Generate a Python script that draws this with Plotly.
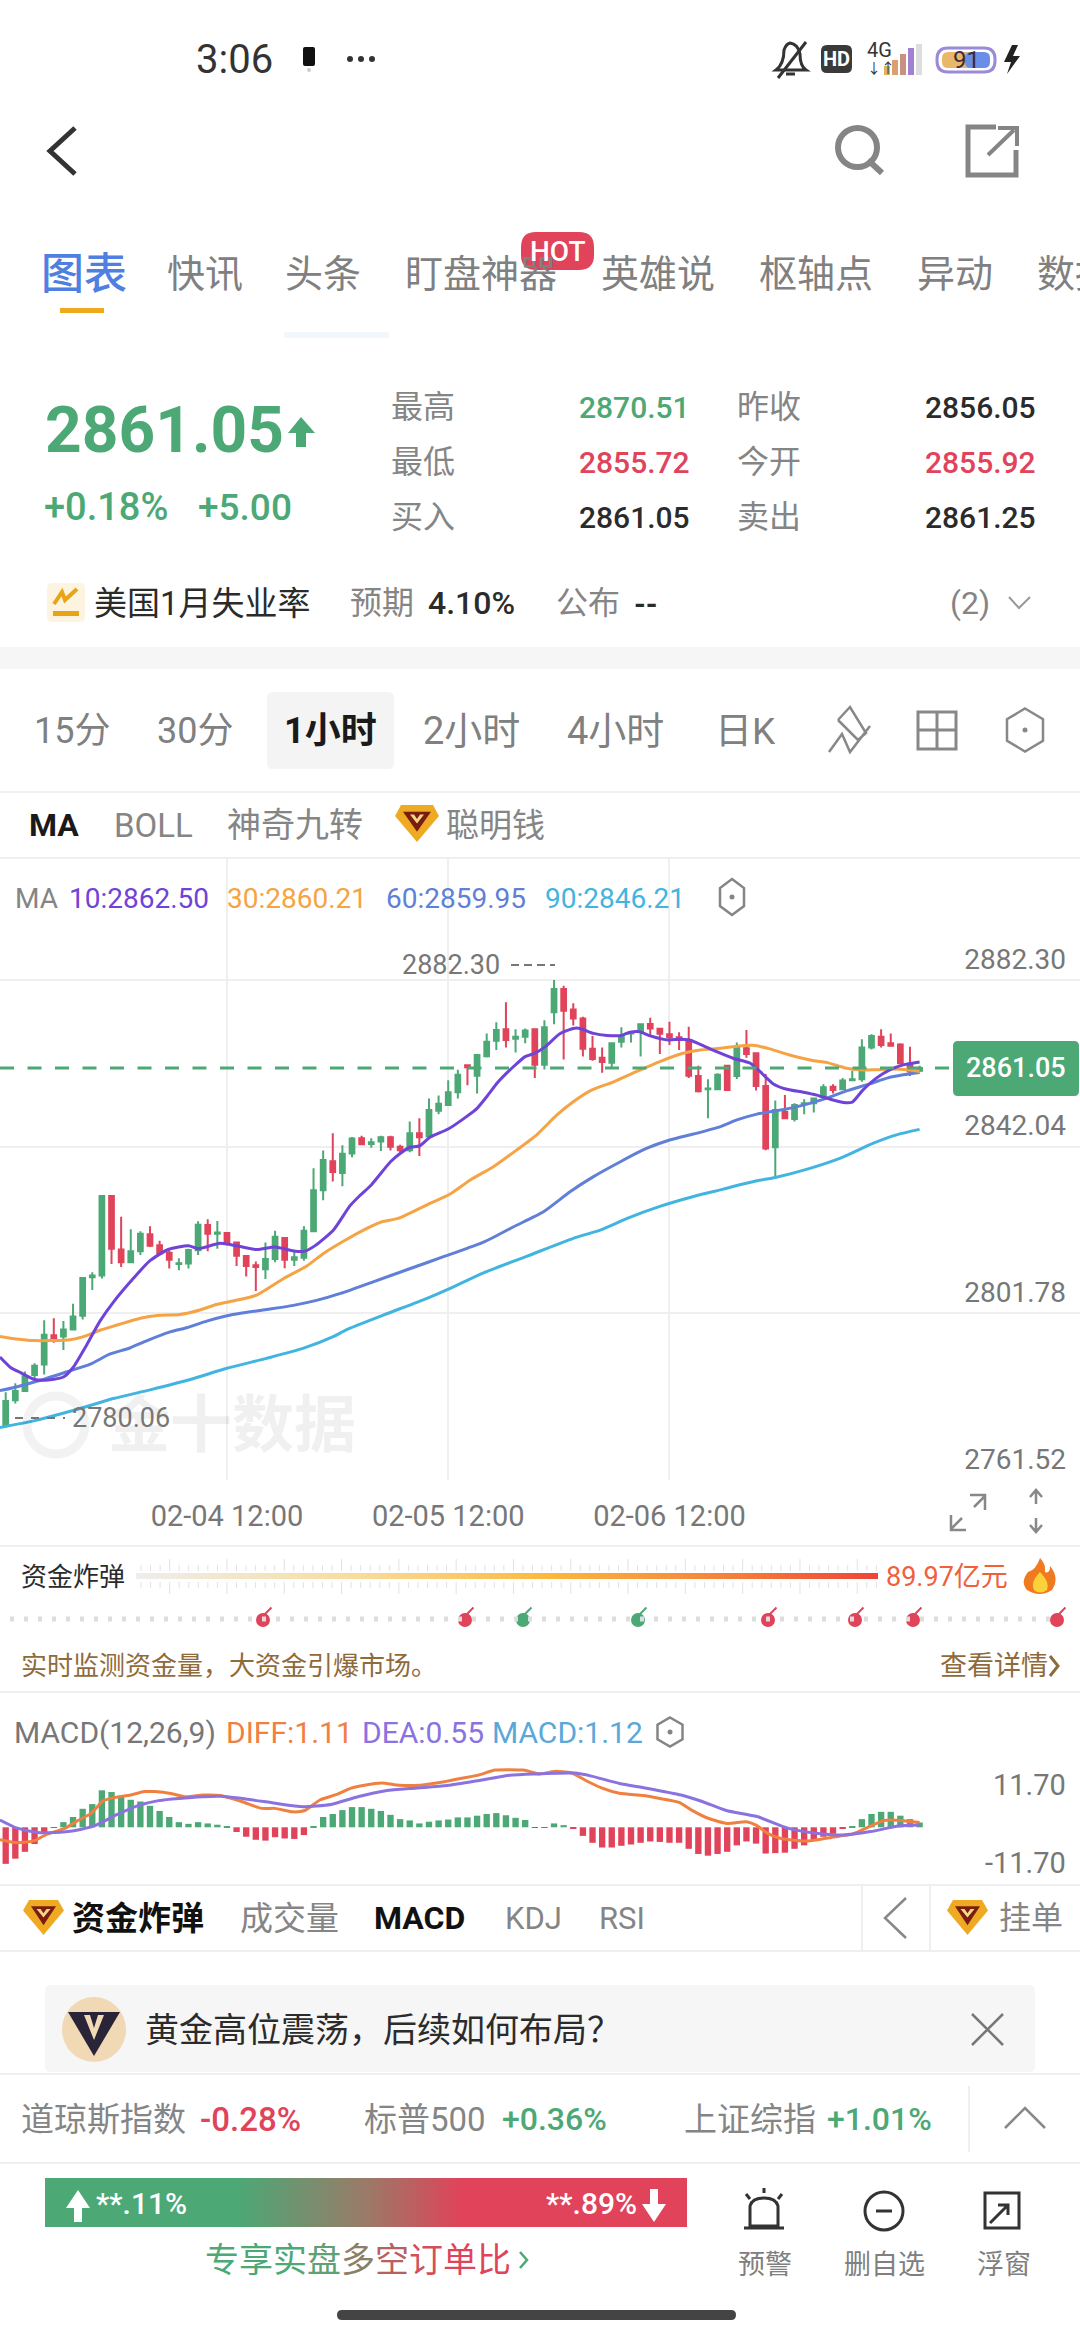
import plotly.graph_objects as go

# candles, one per hour
candle_open = [2774.6,2780.8,2783.0,2786.9,2789.4,2796.5,2796.2,2797.9,2801.2,2810.5,2810.9,2830.1,2817.2,2814.1,2816.8,2820.9,2818.2,2816.4,2813.7,2813.8,2817.0,2823.1,2821.0,2821.2,2818.9,2815.6,2813.4,2812.4,2814.9,2820.0,2814.7,2815.2,
               2821.6,2831.5,2838.5,2835.7,2840.4,2844.1,2842.7,2843.3,2844.3,2842.0,2841.2,2845.3,2844.5,2850.7,2852.1,2855.2,2861.7,2859.2,2863.9,2867.6,2870.4,2868.1,2868.6,2870.4,2861.8,2874.5,2880.1,2875.2,2873.0,2865.7,
               2863.5,2862.3,2867.4,2869.4,2869.8,2871.7,2870.5,2869.2,2868.5,2867.8,2859.1,2855.9,2855.9,2861.6,2859.1,2865.8,2864.6,2856.7,2841.9,2850.5,2848.7,2852.3,2852.5,2854.1,2856.5,2855.9,2858.1,2858.3,2866.0,2868.6,2867.0,2866.7,2861.8,2860.4]
candle_high = [2782.7,2784.9,2787.7,2789.7,2800.1,2800.6,2799.9,2804.1,2810.5,2811.7,2830.3,2830.3,2825.1,2822.1,2821.6,2822.8,2819.3,2817.0,2815.1,2817.4,2824.0,2824.5,2824.1,2821.3,2819.1,2815.7,2814.3,2818.9,2821.7,2820.1,2816.6,2822.8,
               2836.8,2841.1,2845.3,2842.4,2844.4,2844.7,2844.1,2844.7,2844.7,2842.5,2848.1,2848.9,2853.7,2854.4,2858.1,2860.6,2861.8,2864.2,2869.4,2872.1,2876.9,2870.4,2870.6,2870.5,2872.6,2882.3,2880.9,2876.7,2873.4,2868.8,
               2866.0,2867.2,2870.9,2869.8,2871.7,2873.2,2870.6,2872.2,2869.7,2871.0,2861.6,2858.3,2859.8,2861.8,2867.2,2870.2,2864.8,2859.6,2853.2,2854.5,2852.5,2853.5,2853.9,2857.1,2857.1,2858.6,2860.4,2868.0,2869.2,2870.4,2869.4,2867.0,2866.2,2861.6]
candle_low = [2774.4,2780.0,2782.9,2785.8,2787.0,2794.7,2792.9,2797.7,2800.3,2807.4,2810.2,2813.7,2813.0,2813.9,2815.9,2817.8,2816.0,2812.6,2812.2,2812.6,2815.9,2816.8,2817.4,2818.2,2813.2,2810.7,2807.2,2810.1,2814.1,2812.7,2813.2,2814.5,
              2821.4,2829.1,2833.6,2832.5,2839.5,2842.5,2841.8,2841.0,2841.1,2840.6,2840.7,2839.8,2844.1,2849.9,2851.9,2853.7,2856.9,2854.9,2863.6,2865.4,2866.0,2864.8,2867.0,2858.6,2860.7,2871.6,2863.1,2871.3,2863.8,2862.8,
              2859.9,2861.2,2866.0,2867.2,2863.8,2869.0,2864.4,2866.6,2865.4,2858.6,2855.1,2848.9,2855.7,2855.6,2858.4,2863.5,2855.6,2841.2,2834.4,2848.7,2848.1,2849.9,2850.3,2853.7,2854.9,2855.7,2858.0,2857.7,2865.5,2866.0,2866.2,2861.9,2859.1,2860.0]
candle_close = [2780.6,2783.0,2786.6,2789.1,2796.6,2795.7,2797.9,2801.0,2810.3,2810.9,2830.1,2817.4,2814.1,2816.8,2821.0,2818.1,2816.3,2814.7,2813.9,2817.1,2823.2,2821.0,2821.3,2818.8,2815.7,2813.2,2813.0,2814.9,2820.3,2814.7,2815.3,2821.7,
                2831.5,2838.8,2835.9,2840.3,2844.0,2842.6,2843.1,2844.3,2842.0,2841.2,2845.3,2844.3,2850.9,2852.4,2855.2,2859.4,2861.2,2864.2,2867.4,2870.2,2867.8,2868.6,2870.1,2861.8,2870.9,2880.1,2874.9,2873.0,2865.7,2863.2,
                2862.5,2867.0,2868.8,2869.6,2871.6,2870.6,2869.3,2868.5,2867.8,2859.2,2855.4,2856.1,2859.4,2855.7,2866.0,2864.4,2856.7,2841.6,2850.9,2848.9,2852.1,2852.5,2853.7,2856.4,2855.7,2858.0,2858.3,2866.0,2868.8,2866.6,2866.4,2862.2,2860.2,2861.05]

# moving averages, read at points along each line
ma10_idx = [-0.6,0.5,1.5,3,4,6,7,8.4,9.8,11.2,13.3,15,16.9,19,20,22.3,24,26.1,28,30.1,31.1,32.2,34.1,35.8,36.8,38,40,41,42,43,44.1,46,47.9,49,50,51.2,52.8,54,55,56.1,57.6,59,59.7,61.1,62.5,64,64.9,65.9,67,68.9,70.1,71.1,72.9,73.9,75.6,77.4,78.4,79.8,81.2,82.9,84.3,86,87.1,88,89.1,90.5,91.9,93.3,95]
ma10 = [2791.2,2788.7,2787.5,2785.8,2785.6,2786.4,2788.7,2794.1,2799.9,2804.5,2810.3,2814.5,2817.2,2818.1,2817.4,2818.7,2818.1,2817.2,2817.8,2816.8,2816.8,2818.2,2822.0,2827.8,2830.2,2832.8,2838.4,2840.4,2841.9,2842.2,2844.3,2846.3,2849.3,2851.3,2854.1,2857.7,2861.4,2863.8,2864.6,2866.2,2869.3,2870.6,2870.6,2869.4,2868.9,2868.9,2869.7,2869.8,2868.8,2867.8,2868.0,2867.8,2866.0,2865.0,2863.4,2862.2,2860.2,2857.2,2855.9,2855.2,2854.5,2853.3,2852.7,2852.8,2855.7,2858.6,2860.6,2861.8,2862.5]
ma30_idx = [-0.6,1.1,2.9,4.6,6.7,8.4,9.8,11.5,14,16,18.1,20.2,21.9,23.7,26.1,28.9,31.3,33,35.1,37.2,39.1,40.8,43.8,46.2,48.3,50.7,53.1,55.2,57.3,59,60.9,63.2,65.6,68,70.4,72.2,74.3,75.6,77.9,79.5,81.5,84,85.3,87.4,88.8,90.2,92.3,93.7,95]
ma30 = [2796.2,2795.6,2795.2,2795.2,2795.4,2796.4,2797.7,2798.9,2800.6,2801.3,2801.5,2802.6,2803.9,2804.8,2806.2,2810.2,2813.2,2816.2,2819.2,2821.9,2823.9,2824.7,2828.0,2830.6,2834.0,2837.2,2841.2,2844.9,2849.7,2852.9,2855.7,2857.7,2860.2,2862.6,2864.6,2865.4,2865.8,2866.2,2866.5,2865.6,2864.2,2862.8,2862.4,2861.0,2860.6,2860.6,2860.8,2860.6,2860.21]
ma60_idx = [-0.6,1.1,3.6,6.3,8.8,10.8,12.9,14.7,17.1,18.8,20.9,23,24.4,27.1,29.9,32.3,34.8,38.2,41.7,45.8,49.6,52.8,55.9,58.7,61.1,63.9,66.6,69.1,71.5,74.3,76,78.1,80.1,82.6,85.3,87.4,89.8,91.6,93.3,95]
ma60 = [2783.1,2784.0,2785.6,2787.6,2789.5,2791.9,2793.4,2795.2,2797.3,2798.3,2799.9,2801.2,2801.8,2802.7,2803.7,2804.9,2806.6,2809.4,2812.3,2815.7,2818.9,2822.7,2826.3,2831.2,2834.8,2838.4,2841.6,2843.7,2845.1,2846.9,2848.5,2849.9,2850.7,2851.9,2853.7,2855.5,2857.2,2858.6,2859.4,2859.95]
ma90_idx = [-0.6,2.9,7,11.2,15,19.2,23,27.1,30.9,34.1,35.4,39.3,43.8,46.2,49.6,54.2,59,61.8,64.6,68,71.5,74.3,75.6,78.1,80,83.6,86.7,90.2,92.6,95]
ma90 = [2774.2,2775.8,2778.3,2781.2,2783.3,2785.8,2788.5,2790.9,2793.3,2796.2,2797.8,2801.4,2805.4,2807.8,2811.5,2815.6,2819.9,2821.9,2824.7,2827.6,2830.0,2831.6,2832.4,2833.8,2834.6,2836.8,2839.2,2842.9,2844.9,2846.21]

price_ticks = [2882.30, 2842.04, 2801.78, 2761.52]
last_price = 2861.05
time_idx = [23, 46, 69]
time_labels = ["02-04 12:00", "02-05 12:00", "02-06 12:00"]

# macd panel
macd_bars = [-8.5,-7.3,-5.7,-3.9,-1.3,-0.1,1.2,2.4,4.3,5.4,8.6,8.2,7.3,6.4,6.0,5.0,3.8,2.4,1.2,0.8,1.2,0.9,0.6,0.1,-1.1,-2.2,-2.9,-3.1,-2.3,-2.6,-2.7,-1.8,
             0.3,2.4,3.1,4.0,4.7,4.7,4.3,3.8,2.9,1.9,1.6,0.9,1.3,1.6,1.8,2.3,2.3,2.7,3.1,3.3,2.8,2.2,1.7,-0.15,-0.1,0.9,0.5,-0.2,-2.0,-3.6,
             -4.7,-4.7,-4.3,-4.0,-3.6,-3.3,-3.4,-3.6,-3.6,-5.0,-6.2,-6.6,-6.2,-5.7,-4.2,-3.3,-3.8,-6.1,-6.0,-5.9,-5.0,-4.2,-2.9,-2.2,-1.5,-0.3,0.3,1.9,3.1,3.6,3.6,2.7,1.9,1.12]
diff_idx = [-0.6,1.2,3,4.1,6.2,7.3,8.9,10.1,11.2,13,14.4,15.5,17.3,18.7,20.5,22.3,24.5,26.6,28,29.8,31.1,32.7,34.5,35.9,37.3,39.1,40.9,43.1,45.6,47.4,49.2,50.9,53.8,55.5,57,58.8,60.2,62,63.8,66.3,68,70,71.3,73,75,77,78,79.2,80.6,83.4,85.9,88,89.9,91.3,93.1,95]
diff_line = [-2.9,-3.6,-3.1,-1.8,-0.2,1.3,3.3,6.1,6.9,7.5,8.3,8.3,7.8,7.1,7.5,7.4,6.0,4.4,4.4,3.6,3.9,6.4,7.7,9.1,9.8,10.3,9.8,9.8,10.6,11.4,12.2,13.3,13.3,12.4,13.0,12.7,11.0,9.1,7.9,7.4,6.7,5.8,4.0,2.1,0.9,1.3,0.5,-1.4,-2.6,-3.2,-2.3,-1.6,0.3,1.6,1.6,1.11]
dea_idx = [-0.6,1.2,3.3,5.1,7.1,9.4,11.6,13.7,15.9,18,22.3,25.2,28,30.9,33.8,36.6,39.5,42.4,45.9,49.5,52.4,54.9,59.1,60.9,63.8,66.6,70.2,72.4,74.9,78.1,81.3,84.2,87,89.9,92.8,95]
dea_line = [1.7,-0.2,-1.2,-1.2,-0.8,0.5,3.0,5.0,6.2,6.7,7.2,6.5,5.6,4.8,5.3,7.1,8.5,9.1,9.7,11.0,12.1,12.4,12.6,11.9,10.2,9.1,7.5,6.0,3.9,2.5,-0.2,-1.4,-1.8,-1.0,0.3,0.55]

# 资金炸弹 markers, left to right
bomb_x = [263, 465, 523, 638, 768, 855, 913, 1057]
bomb_up = [False, False, True, True, False, False, False, False]

GREEN = "#4ca875"
RED = "#e0435a"
GRAY = "#858585"
DARK = "#2b2b2b"
LINE = "#efefef"
FONT = "Roboto, Noto Sans CJK SC"
W, H = 1080, 2340

annos = []
shapes = []


def text(x, y, s, size, color=GRAY, anchor="left", weight=400):
    annos.append(dict(x=x, y=y, xref="x3", yref="y3", text=s, showarrow=False, xanchor=anchor, yanchor="middle",
                      font=dict(size=size, color=color, family=FONT, weight=weight), borderpad=0, borderwidth=0))


def rect(x0, y0, x1, y1, fill, layer="above"):
    shapes.append(dict(type="rect", xref="x3", yref="y3", x0=x0, y0=y0, x1=x1, y1=y1, fillcolor=fill, line_width=0, layer=layer))


def hline(y, color=LINE, x0=0, x1=W, width=2):
    shapes.append(dict(type="line", xref="x3", yref="y3", x0=x0, x1=x1, y0=y, y1=y, line=dict(color=color, width=width)))


def vline(x, y0, y1, color=LINE, width=2):
    shapes.append(dict(type="line", xref="x3", yref="y3", x0=x, x1=x, y0=y0, y1=y1, line=dict(color=color, width=width)))


def path(d, color=None, fill=None, width=3):
    shapes.append(dict(type="path", xref="x3", yref="y3", path=d, fillcolor=fill or "rgba(0,0,0,0)",
                       line=dict(color=color or "rgba(0,0,0,0)", width=width if color else 0)))


def ellipse(x0, y0, x1, y1, fill=None, color=None, width=3):
    shapes.append(dict(type="circle", xref="x3", yref="y3", x0=x0, y0=y0, x1=x1, y1=y1, fillcolor=fill or "rgba(0,0,0,0)",
                       line=dict(color=color or "rgba(0,0,0,0)", width=width if color else 0)))


def round_rect(x0, y0, x1, y1, r, fill=None, color=None, width=2):
    d = (f"M{x0+r},{y0} L{x1-r},{y0} Q{x1},{y0} {x1},{y0+r} L{x1},{y1-r} Q{x1},{y1} {x1-r},{y1} "
         f"L{x0+r},{y1} Q{x0},{y1} {x0},{y1-r} L{x0},{y0+r} Q{x0},{y0} {x0+r},{y0} Z")
    path(d, color, fill, width)


def hexagon(cx, cy, w, h, color=GRAY):
    d = (f"M{cx},{cy-h/2} L{cx+w/2},{cy-h/4} L{cx+w/2},{cy+h/4} L{cx},{cy+h/2} L{cx-w/2},{cy+h/4} L{cx-w/2},{cy-h/4} Z")
    path(d, color, None, 2.5)
    ellipse(cx - 2.5, cy - 2.5, cx + 2.5, cy + 2.5, fill=color)


def diamond(x0, y0, x1, y1):
    cx = (x0 + x1) / 2
    h = y1 - y0
    path(f"M{x0+6},{y0} L{x1-6},{y0} L{x1},{y0+h*0.3} L{cx},{y1} L{x0},{y0+h*0.3} Z", fill="#eeaa22")
    path(f"M{x0+8},{y0+h*0.18} L{x1-8},{y0+h*0.18} L{cx},{y0+h*0.72} Z", fill="#7a1c10")
    path(f"M{cx-7},{y0+h*0.26} L{cx},{y0+h*0.5} L{cx+7},{y0+h*0.26} L{cx+3},{y0+h*0.26} L{cx},{y0+h*0.38} L{cx-3},{y0+h*0.26} Z", fill="#f5d78a")


# status bar
text(196, 59, "3:06", 40, "#333333")
round_rect(303, 47, 315, 66, 2, fill="#111111")
ellipse(307, 68, 311, 72, fill="#cccccc")
for dot_x in (350, 361, 372):
    ellipse(dot_x - 3, 56, dot_x + 3, 62, fill="#333333")
path("M776,70 Q784,64 784,50 Q786,44 790,43 Q798,44 800,54 Q800,66 806,70 Z M786,74 L795,74", "#333333", None, 3)
path("M778,78 L806,42", "#333333", None, 3)
round_rect(821, 45, 852, 73, 6, fill="#3a3a3a")
text(836.5, 59, "HD", 20, "#ffffff", "center", 700)
text(867, 50, "4G", 20, "#333333")
text(867, 68, "↓↑", 14, "#333333")
for bar_x, bar_top, bar_color in zip((884, 892, 900, 908, 916), (66, 60, 54, 48, 44), ("#e0b060", "#dca070", "#c89080", "#a080d0", "#dddddd")):
    rect(bar_x, bar_top, bar_x + 6, 75, bar_color)
round_rect(937, 48, 995, 72, 11, fill="#ffffff", color="#9a8ad8", width=3)
round_rect(942, 52, 978, 68, 6, fill="#e8b76a")
round_rect(965, 52, 990, 68, 6, fill="#6a8ee8")
text(966, 60, "91", 24, "#3a2a3a", "center")
path("M1012,45 L1004,62 L1011,62 L1007,74 L1020,56 L1013,56 L1018,45 Z", fill="#222222")

# nav row
path("M75,128 L50,151 L75,174", "#333333", None, 5)
ellipse(838, 128, 877, 167, color=GRAY, width=6)
path("M868,160 L882,173", GRAY, None, 6)
path("M996,127 L968,127 L968,175 L1016,175 L1016,150", GRAY, None, 5)
path("M988,155 L1014,130 M998,128 L1017,128 L1017,146", GRAY, None, 4)

# tabs
text(41, 274, "图表", 43, "#4f80e1", weight=500)
for tab_x, tab in zip((167, 285, 405, 601, 759, 917, 1037), ("快讯", "头条", "盯盘神器", "英雄说", "枢轴点", "异动", "数据")):
    text(tab_x, 274, tab, 38, "#808080")
rect(60, 308, 104, 313, "#f0a81c")
rect(284, 332, 389, 338, "#f2f6fd")
round_rect(521, 232, 594, 270, 15, fill=RED)
text(557.5, 251, "HOT", 28, "#ffffff", "center", 500)

# quote block
text(45, 430, "2861.05", 64, GREEN, weight=700)
path("M301,417 L315,433 L306,433 L306,447 L296,447 L296,433 L288,433 Z", fill=GREEN)
text(44, 507, "+0.18%", 38, GREEN, weight=500)
text(198, 507, "+5.00", 37, GREEN, weight=500)
for row_y, left, mid, mid_color, right, val, val_color in [
    (407, "最高", "2870.51", GREEN, "昨收", "2856.05", DARK),
    (462, "最低", "2855.72", RED, "今开", "2855.92", RED),
    (517, "买入", "2861.05", DARK, "卖出", "2861.25", DARK),
]:
    text(391, row_y, left, 32)
    text(690, row_y, mid, 30, mid_color, "right", 500)
    text(737, row_y, right, 32)
    text(1036, row_y, val, 30, val_color, "right", 500)

round_rect(47, 583, 85, 622, 5, fill="#fdf4e0")
path("M54,604 L62,592 L65,600 L77,589", "#e8a317", None, 4)
rect(53, 611, 79, 616, "#e8a317")
text(94, 603, "美国1月失业率", 33, DARK)
text(350, 603, "预期", 32)
text(428, 603, "4.10%", 32, DARK, weight=500)
text(556, 603, "公布", 32)
text(634, 603, "--", 30, DARK, weight=700)
text(950, 603, "(2)", 32)
path("M1009,597 L1019,608 L1030,597", "#999999", None, 2)
rect(0, 647, W, 669, "#f6f6f6", "below")

# period row
round_rect(267, 692, 394, 769, 6, fill="#f4f4f4")
for per_x, per, per_size in zip((34, 157, 423, 567, 715), ("15分", "30分", "2小时", "4小时", "日K"), (36, 36, 38, 38, 37)):
    text(per_x, 731, per, per_size, "#808080")
text(284, 731, "1小时", 36, "#1a1a1a", weight=700)
path("M838,720 L850,707 L866,733 L858,740 L838,720 M829,752 L842,734 L850,752 L870,726", "#888888", None, 2.5)
shapes.append(dict(type="rect", xref="x3", yref="y3", x0=918, y0=712, x1=956, y1=749, line=dict(color="#888888", width=3)))
path("M937,712 L937,749 M918,730 L956,730", "#888888", None, 3)
hexagon(1025, 730, 36, 43, "#888888")
hline(792)
hline(858)

# indicator tabs
text(29, 825, "MA", 32, "#1a1a1a", weight=700)
text(114, 825, "BOLL", 33)
text(227, 825, "神奇九转", 34)
diamond(395, 805, 439, 842)
text(446, 825, "聪明钱", 33)

# ma legend
text(15, 898, "MA", 28)
for leg_x, leg, leg_color in zip((69, 227, 386, 545), ("10:2862.50", "30:2860.21", "60:2859.95", "90:2846.21"), ("#6f42d8", "#f5a344", "#5f7fd8", "#42b4e0")):
    text(leg_x, 898, leg, 28, leg_color)
hexagon(732, 897, 24, 36)

# watermark under the candles
ellipse(27, 1396, 85, 1454, color="rgba(0,0,0,0.05)", width=9)
text(108, 1425, "金十数据", 62, "rgba(0,0,0,0.06)", weight=700)

# high and low marks
text(402, 965, "2882.30", 27, "#777777")
path("M511,965 L555,965", "#777777", None, 2)
shapes[-1]["line"]["dash"] = "8px,5px"
text(72, 1418, "2780.06", 27, "#777777")
path("M15,1418 L65,1418", "#777777", None, 2)
shapes[-1]["line"]["dash"] = "8px,8px"

# last price tag
round_rect(953, 1041, 1079, 1096, 5, fill=GREEN)
text(1016, 1068, "2861.05", 27, "#ffffff", "center", 500)

# expand icons and date row
path("M951,1529 L962,1518 M951,1515 L951,1530 L966,1530 M974,1507 L985,1496 M970,1495 L985,1495 L985,1510", "#888888", None, 2.5)
path("M1036,1490 L1036,1504 M1030,1497 L1036,1490 L1042,1497 M1036,1518 L1036,1532 M1030,1525 L1036,1532 L1042,1525", "#888888", None, 2.5)

# 资金炸弹 strip
hline(1546)
text(21, 1577, "资金炸弹", 26, DARK)
minor_ticks = ""
for k in range(78):
    tick_x = 141 + 9.55 * k
    tall = k % 6 == 3
    minor_ticks += f"M{tick_x},{1559 if tall else 1565} L{tick_x},1571 M{tick_x},1582 L{tick_x},{1594 if tall else 1588} "
path(minor_ticks, "#e2e2e2", None, 1)
text(886, 1577, "89.97亿元", 27, "#f0603a")
path("M1040,1558 Q1036,1570 1028,1572 Q1020,1582 1027,1590 Q1040,1598 1052,1590 Q1060,1578 1050,1566 Q1050,1574 1045,1572 Q1046,1564 1040,1558 Z", fill="#f07a20")
path("M1040,1572 Q1030,1582 1034,1590 Q1040,1595 1047,1590 Q1050,1582 1040,1572 Z", fill="#fbd23a")
shapes.append(dict(type="line", xref="x3", yref="y3", x0=10, x1=1050, y0=1619, y1=1619, line=dict(color="#dedede", width=5, dash="4px,10px")))
text(21, 1666, "实时监测资金量，大资金引爆市场。", 26, "#8f6a3a")
text(940, 1666, "查看详情", 27, "#8f6a3a")
path("M1050,1656 L1058,1666 L1050,1676", "#8f6a3a", None, 3)
hline(1692)

# macd heading
text(14, 1732, "MACD(12,26,9)", 30, "#777777")
text(226, 1732, "DIFF:1.11", 30, "#f08040")
text(362, 1732, "DEA:0.55", 30, "#8a72e0")
text(492, 1732, "MACD:1.12", 30, "#5aa8d8")
hexagon(670, 1732, 25, 29)
text(1066, 1785, "11.70", 29, "#777777", "right")
text(1066, 1863, "-11.70", 29, "#777777", "right")

# lower tab row
hline(1885)
diamond(23, 1900, 64, 1935)
text(72, 1918, "资金炸弹", 33, "#111111", weight=700)
text(240, 1918, "成交量", 33)
text(374, 1918, "MACD", 32, "#111111", weight=700)
text(505, 1918, "KDJ", 31)
text(599, 1918, "RSI", 31)
vline(862, 1885, 1951)
vline(930, 1885, 1951)
path("M906,1898 L885,1918 L906,1938", "#888888", None, 2.5)
diamond(947, 1900, 988, 1935)
text(999, 1918, "挂单", 32)
hline(1951)

# banner
round_rect(45, 1985, 1035, 2072, 6, fill="#f6f6f6")
ellipse(62, 1997, 126, 2062, fill="#f1d9b5")
path("M68,2012 L120,2012 L94,2056 Z", fill="#2a2438")
path("M84,2015 L94,2040 L104,2015 L98,2015 L94,2028 L90,2015 Z", fill="#f1d9b5")
text(145, 2030, "黄金高位震荡，后续如何布局？", 34, DARK)
path("M972,2014 L1003,2045 M1003,2014 L972,2045", "#777777", None, 2.5)
hline(2074)

# index row
text(21, 2119, "道琼斯指数", 33)
text(200, 2119, "-0.28%", 33, RED, weight=500)
text(364, 2119, "标普500", 33)
text(502, 2119, "+0.36%", 32, GREEN, weight=500)
text(684, 2119, "上证综指", 33)
text(827, 2119, "+1.01%", 32, GREEN, weight=500)
vline(969, 2086, 2152)
path("M1005,2128 L1025,2108 L1045,2128", "#888888", None, 2.5)
hline(2163)

# long/short bar
text(96, 2203, "**.11%", 30, "#ffffff", weight=500)
text(637, 2203, "**.89%", 30, "#ffffff", "right", 500)
path("M78,2190 L90,2208 L82,2208 L82,2222 L74,2222 L74,2208 L66,2208 Z", fill="#ffffff")
path("M650,2189 L658,2189 L658,2204 L666,2204 L654,2222 L642,2204 L650,2204 Z", fill="#ffffff")
gradient_chars = list(zip("专享实盘多空订单比", ("#4ca875", "#4ca875", "#4ca875", "#5fa075", "#8a8068", "#b8605f", "#d0505c", RED, RED)))
text(205, 2260, "".join(f'<span style="color:{c}">{ch}</span>' for ch, c in gradient_chars), 34)
path("M520,2252 L527,2260 L520,2268", "#4ca875", None, 2.5)

# bottom icons
path("M750,2226 L750,2206 Q752,2198 764,2198 Q776,2198 778,2206 L778,2226 Z M744,2228 L784,2228 M764,2188 L764,2193 M746,2194 L750,2199 M782,2194 L778,2199", "#333333", None, 3)
ellipse(865, 2192, 903, 2230, color="#333333", width=3)
path("M876,2211 L892,2211", "#333333", None, 3)
shapes.append(dict(type="rect", xref="x3", yref="y3", x0=985, y0=2193, x1=1019, y1=2228, line=dict(color="#333333", width=3)))
path("M990,2223 L1008,2205 M998,2205 L1008,2205 L1008,2215", "#333333", None, 3)
text(764.5, 2265, "预警", 27, "#808080", "center")
text(884, 2265, "删自选", 27, "#808080", "center")
text(1003.5, 2265, "浮窗", 27, "#808080", "center")
round_rect(337, 2310, 736, 2320, 5, fill="#444444")

# axis ranges, worked out from where the price grid sits on the page
PX_PER_PRICE = 166.67 / 40.26
PX_PER_MACD = 4.3
X_PER_PX = 1 / 9.62
x_range = [-5.7 * X_PER_PX, (W - 5.7) * X_PER_PX]
y_range = [price_ticks[-1], price_ticks[0] + (980 - 858) / PX_PER_PRICE]
macd_range = [(1827.3 - 1884) / PX_PER_MACD, (1827.3 - 1745) / PX_PER_MACD]

# last price dashes
shapes.append(dict(type="line", xref="x3", x0=0, x1=953, yref="y", y0=last_price, y1=last_price,
                   line=dict(color=GREEN, width=3, dash="14px,13.5px")))

fig = go.Figure()
fig.add_trace(go.Candlestick(x=list(range(len(candle_open))), open=candle_open, high=candle_high, low=candle_low, close=candle_close,
                             increasing=dict(line=dict(color=GREEN, width=2), fillcolor=GREEN),
                             decreasing=dict(line=dict(color=RED, width=2), fillcolor=RED),
                             showlegend=False, hoverinfo="skip"))
for xs, ys, col in [(ma90_idx, ma90, "#42b4e0"), (ma60_idx, ma60, "#5f7fd8"), (ma30_idx, ma30, "#f5a344"), (ma10_idx, ma10, "#6f42d8")]:
    fig.add_trace(go.Scatter(x=xs, y=ys, mode="lines", line=dict(color=col, width=3, shape="spline", smoothing=0.6), showlegend=False, hoverinfo="skip"))

fig.add_trace(go.Bar(x=list(range(len(macd_bars))), y=macd_bars, width=0.66, marker=dict(color=[GREEN if v > 0 else RED for v in macd_bars], line_width=0),
                     xaxis="x2", yaxis="y2", showlegend=False, hoverinfo="skip"))
fig.add_trace(go.Scatter(x=diff_idx, y=diff_line, mode="lines", line=dict(color="#f08040", width=3, shape="spline", smoothing=0.6), xaxis="x2", yaxis="y2", showlegend=False, hoverinfo="skip"))
fig.add_trace(go.Scatter(x=dea_idx, y=dea_line, mode="lines", line=dict(color="#8a72e0", width=3, shape="spline", smoothing=0.6), xaxis="x2", yaxis="y2", showlegend=False, hoverinfo="skip"))

# gradient bars and bombs live on the page axes
fig.add_trace(go.Scatter(x=[136, 878, 878, 136, 136], y=[1573, 1573, 1579, 1579, 1573], mode="lines", line_width=0, fill="toself",
                         fillgradient=dict(type="horizontal", colorscale=[[0, "#eeeeee"], [0.3, "#f8dc9c"], [0.55, "#fbb93e"], [0.8, "#f5803a"], [1, "#ee4438"]]),
                         xaxis="x3", yaxis="y3", showlegend=False, hoverinfo="skip"))
fig.add_trace(go.Scatter(x=[45, 687, 687, 45, 45], y=[2178, 2178, 2227, 2227, 2178], mode="lines", line_width=0, fill="toself",
                         fillgradient=dict(type="horizontal", colorscale=[[0, GREEN], [0.3, GREEN], [0.5, "#9a7a68"], [0.65, RED], [1, RED]]),
                         xaxis="x3", yaxis="y3", showlegend=False, hoverinfo="skip"))
bomb_colors = [GREEN if up else RED for up in bomb_up]
fig.add_trace(go.Scatter(x=bomb_x, y=[1620] * len(bomb_x), mode="markers", marker=dict(color=bomb_colors, size=17, symbol="circle", line=dict(color="#ffffff", width=3)),
                         xaxis="x3", yaxis="y3", showlegend=False, hoverinfo="skip"))
fig.add_trace(go.Scatter(x=[b + 5 for b in bomb_x], y=[1611] * len(bomb_x), mode="markers", marker=dict(symbol="line-ne", size=7, line=dict(color=bomb_colors, width=2)),
                         xaxis="x3", yaxis="y3", showlegend=False, hoverinfo="skip"))

fig.update_layout(
    width=W, height=H, margin=dict(l=0, r=0, t=0, b=0), paper_bgcolor="#ffffff", plot_bgcolor="rgba(0,0,0,0)",
    font=dict(family=FONT), showlegend=False,
    xaxis=dict(domain=[0, 1], range=x_range, rangeslider_visible=False, tickmode="array", tickvals=time_idx, ticktext=time_labels,
               showgrid=True, gridcolor=LINE, gridwidth=2, zeroline=False, showline=False, ticks="", ticklabelstandoff=16,
               tickfont=dict(size=29, color="#777777", family=FONT), anchor="y"),
    yaxis=dict(domain=[1 - 1480 / H, 1 - 858 / H], range=y_range, side="right", tickmode="array", tickvals=price_ticks,
               ticktext=[f"{p:.2f}" for p in price_ticks], showgrid=True, gridcolor=LINE, gridwidth=2, zeroline=False, showline=False,
               ticklabelposition="inside", ticklabelstandoff=11, ticklabelshift=-21, ticks="",
               tickfont=dict(size=28, color="#777777", family=FONT), anchor="x"),
    xaxis2=dict(domain=[0, 1], range=x_range, visible=False, anchor="y2"),
    yaxis2=dict(domain=[1 - 1884 / H, 1 - 1745 / H], range=macd_range, visible=False, anchor="x2"),
    xaxis3=dict(domain=[0, 1], range=[0, W], visible=False, anchor="y3"),
    yaxis3=dict(domain=[0, 1], range=[H, 0], visible=False, anchor="x3"),
    annotations=annos, shapes=shapes,
)

fig.write_html("out.html", config=dict(displayModeBar=False),
               post_script="document.body.style.margin='0';document.body.style.overflow='hidden';")
